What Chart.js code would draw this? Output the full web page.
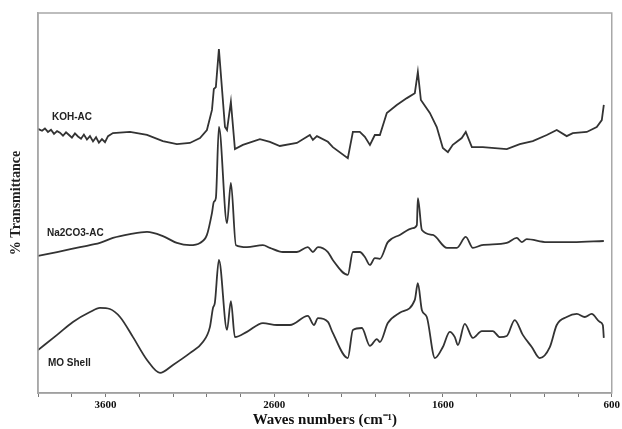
<!DOCTYPE html>
<html>
<head>
<meta charset="utf-8">
<script src="https://cdn.jsdelivr.net/npm/chart.js@4.4.1/dist/chart.umd.min.js"></script>
<style>
  html, body { margin: 0; padding: 0; background: #fff; }
  #wrap { width: 622px; height: 429px; }
</style>
</head>
<body>
<div id="wrap"><canvas id="ftir"></canvas></div>
<script>
// FTIR spectra, wavenumber (cm-1) vs offset transmittance (a.u.)
const kohWn = [4000, 3976, 3959, 3941, 3923, 3905, 3887, 3870, 3852, 3834, 3816, 3799, 3781, 3763, 3745, 3728, 3710, 3692, 3674, 3656, 3639, 3621, 3603, 3585,
  3556, 3455, 3354, 3260, 3177, 3100, 3040, 2999, 2969, 2958, 2946, 2928, 2892, 2880, 2857, 2833, 2786, 2685, 2626, 2567, 2466, 2389, 2371, 2347, 2282,
  2253, 2164, 2134, 2093, 2063, 2033, 2004, 1974, 1933, 1874, 1814, 1767, 1749, 1731, 1678, 1637, 1601, 1571, 1542, 1489, 1465, 1429, 1364, 1222, 1145,
  1068, 985, 926, 867, 831, 748, 689, 659, 647];
const kohT = [69.5, 69.0, 69.6, 68.7, 69.3, 68.2, 68.9, 68.5, 67.7, 68.6, 67.9, 67.2, 68.3, 67.5, 66.9, 68.0, 66.7, 67.6, 66.2, 67.3, 65.9, 66.8, 66.0, 67.6,
  68.4, 68.7, 67.9, 66.3, 65.5, 65.8, 67.1, 69.2, 74.5, 80.0, 80.5, 90.5, 70.0, 69.2, 76.6, 64.2, 65.3, 66.8, 66.1, 65.0, 65.8, 67.9, 66.6, 67.6, 66.1,
  64.7, 61.8, 68.7, 68.7, 67.4, 65.3, 67.9, 67.9, 73.7, 75.8, 77.6, 78.9, 84.5, 77.1, 73.7, 70.0, 64.5, 63.4, 65.3, 67.1, 68.7, 64.7, 64.7, 64.2, 65.5,
  66.3, 67.9, 69.2, 67.6, 68.4, 68.7, 70.0, 71.8, 75.8];

const naWn = [4000, 3887, 3751, 3633, 3556, 3455, 3354, 3260, 3177, 3100, 3040, 2999, 2969, 2958, 2946, 2928, 2880, 2857, 2827, 2762, 2667, 2626, 2549,
  2466, 2401, 2371, 2341, 2282, 2253, 2164, 2134, 2093, 2063, 2033, 2004, 1974, 1927, 1856, 1779, 1755, 1749, 1725, 1660, 1577, 1518, 1465, 1423, 1370,
  1222, 1163, 1133, 1104, 985, 831, 647];
const naT = [36.1, 37.1, 38.4, 39.5, 40.8, 41.8, 42.4, 41.3, 39.5, 38.9, 39.5, 41.6, 47.4, 50.3, 51.3, 70.0, 44.7, 55.3, 38.9, 38.4, 38.9, 38.2, 37.1,
  37.1, 38.4, 37.1, 38.4, 37.1, 35.0, 31.1, 37.1, 37.1, 35.8, 33.7, 35.5, 35.3, 39.7, 41.6, 43.4, 44.2, 51.3, 42.9, 41.6, 38.2, 38.2, 41.1, 38.2, 38.9,
  39.5, 40.8, 39.7, 40.5, 39.7, 39.7, 40.0];

const moWn = [4000, 3887, 3793, 3692, 3633, 3574, 3514, 3437, 3354, 3277, 3200, 3100, 3023, 2981, 2963, 2952, 2928, 2880, 2857, 2833, 2762, 2667, 2584,
  2507, 2401, 2365, 2341, 2282, 2253, 2164, 2134, 2081, 2033, 1992, 1974, 1927, 1856, 1767, 1749, 1725, 1696, 1648, 1601, 1560, 1530, 1512, 1471, 1423,
  1370, 1305, 1263, 1222, 1175, 1127, 1074, 1027, 967, 926, 867, 807, 760, 719, 671, 653, 647];
const moT = [11.3, 15.3, 18.7, 21.3, 22.4, 22.1, 20.0, 14.7, 8.7, 5.3, 7.4, 10.5, 13.4, 17.4, 22.4, 23.7, 35.0, 16.6, 24.2, 14.7, 16.1, 18.4, 17.9,
  17.9, 20.3, 17.9, 19.7, 18.7, 15.8, 9.2, 16.6, 17.1, 12.4, 14.2, 13.4, 18.4, 21.1, 24.5, 28.9, 21.8, 20.0, 9.2, 12.1, 16.1, 14.7, 12.6, 18.2, 14.5,
  16.3, 16.3, 14.7, 15.0, 19.2, 15.3, 12.1, 9.2, 12.1, 17.9, 20.0, 20.8, 20.0, 20.8, 18.7, 17.9, 14.5];

const seriesNames = ['KOH-AC', 'Na2CO3-AC', 'MO Shell'];
const xLabelTicks = [3600, 2600, 1600, 600];

const toPoints = (wn, t) => wn.map((w, i) => ({ x: w, y: t[i] }));

const lineStyle = {
  borderColor: '#333',
  borderWidth: 1.8,
  pointRadius: 0,
  cubicInterpolationMode: 'monotone',
  fill: false
};

// frame around the plot area
const framePlugin = {
  id: 'frame',
  afterDraw(chart) {
    const { ctx, chartArea: a } = chart;
    ctx.save();
    ctx.strokeStyle = '#a8a8a8';
    ctx.lineWidth = 1.5;
    ctx.strokeRect(a.left, a.top, a.right - a.left, a.bottom - a.top);
    ctx.restore();
  }
};

// sample names written next to each curve
const namePlugin = {
  id: 'names',
  afterDatasetsDraw(chart) {
    const { ctx, scales } = chart;
    const spots = [[3917, 72.6], [3947, 42.1], [3941, 7.9]];
    ctx.save();
    ctx.font = 'bold 10px "Liberation Sans", Arial, sans-serif';
    ctx.fillStyle = '#222';
    ctx.textBaseline = 'middle';
    seriesNames.forEach((name, i) => {
      ctx.fillText(name, scales.x.getPixelForValue(spots[i][0]), scales.y.getPixelForValue(spots[i][1]));
    });
    ctx.restore();
  }
};

new Chart(document.getElementById('ftir'), {
  type: 'line',
  data: {
    datasets: [
      // noisy KOH trace reads better with straight segments
      { label: seriesNames[0], data: toPoints(kohWn, kohT), ...lineStyle, cubicInterpolationMode: 'default', tension: 0 },
      { label: seriesNames[1], data: toPoints(naWn, naT), ...lineStyle },
      { label: seriesNames[2], data: toPoints(moWn, moT), ...lineStyle }
    ]
  },
  options: {
    responsive: true,
    maintainAspectRatio: false,
    animation: false,
    layout: { padding: { top: 13, right: 10, bottom: 0, left: 4 } },
    plugins: {
      legend: { display: false },
      tooltip: { enabled: false }
    },
    scales: {
      x: {
        type: 'linear',
        reverse: true,
        min: 600,
        max: 4000,
        afterFit: (s) => { s.height = 36; },
        grid: {
          drawOnChartArea: false,
          drawTicks: true,
          tickLength: 4,
          color: '#777'
        },
        border: { color: '#888', width: 1.5 },
        ticks: {
          stepSize: 200,
          autoSkip: false,
          maxRotation: 0,
          padding: 2,
          color: '#111',
          font: { family: '"Liberation Serif", "Times New Roman", serif', size: 11, weight: 'bold' },
          callback: (v) => (xLabelTicks.includes(v) ? String(v) : '')
        },
        title: {
          display: true,
          text: 'Waves numbers (cm\u207B\u00B9)',
          color: '#111',
          padding: { top: 0, bottom: 0 },
          font: { family: '"Liberation Serif", "Times New Roman", serif', size: 15, weight: 'bold' }
        }
      },
      y: {
        min: 0,
        max: 100,
        afterFit: (s) => { s.width = 34; },
        grid: { display: false },
        border: { color: '#a8a8a8', width: 1.5 },
        ticks: { display: false },
        title: {
          display: true,
          text: '% Transmittance',
          color: '#222',
          font: { family: '"Liberation Serif", "Times New Roman", serif', size: 14, weight: 'bold' }
        }
      }
    }
  },
  plugins: [framePlugin, namePlugin]
});
</script>
</body>
</html>
